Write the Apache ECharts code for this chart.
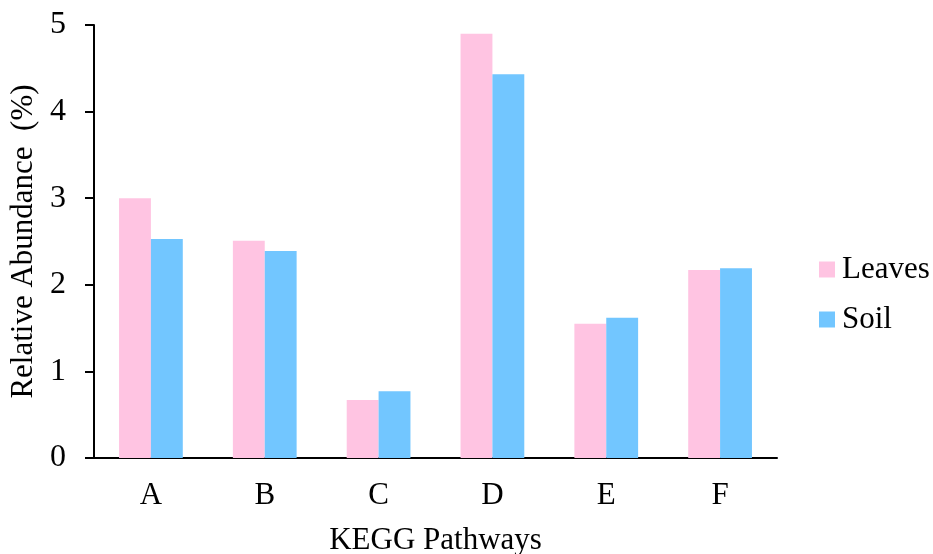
<!DOCTYPE html>
<html><head><meta charset="utf-8">
<script src="https://cdn.jsdelivr.net/npm/echarts@6/dist/echarts.min.js"></script>
<style>html,body{margin:0;padding:0;background:#fff}#c{width:933px;height:554px}</style>
</head><body><div id="c"></div>
<script>
const categories = ['A','B','C','D','E','F'];
const leaves = [3.00, 2.51, 0.67, 4.90, 1.55, 2.17];
const soil = [2.53, 2.39, 0.77, 4.43, 1.62, 2.19];
const yTicks = [0,1,2,3,4,5];

const font = '"Liberation Serif", "Times New Roman", serif';
const chart = echarts.init(document.getElementById('c'), null, {renderer:'canvas'});
chart.setOption({
  animation:false,
  backgroundColor:'#fff',
  textStyle:{fontFamily:font, color:'#000'},
  grid:{left:94, right:156, top:25, bottom:96, containLabel:false, outerBoundsMode:'none'},
  legend:{
    orient:'vertical', left:814, top:249, itemWidth:16, itemHeight:16, itemGap:19,
    icon:'rect',
    textStyle:{fontFamily:font, fontSize:31, color:'#000', padding:[0,0,0,2]},
    data:['Leaves','Soil']
  },
  xAxis:{
    type:'category', data:categories,
    name:'KEGG Pathways', nameLocation:'middle', nameGap:67,
    nameTextStyle:{fontFamily:font, fontSize:31, color:'#000'},
    axisLine:{lineStyle:{color:'#000', width:2}},
    axisTick:{show:false},
    axisLabel:{fontFamily:font, fontSize:31, color:'#000', margin:22}
  },
  yAxis:{
    type:'value', min:yTicks[0], max:yTicks[yTicks.length-1], interval:1,
    name:'Relative Abundance  (%)', nameLocation:'middle', nameGap:48,
    nameTextStyle:{fontFamily:font, fontSize:31, color:'#000'},
    axisLine:{show:true, lineStyle:{color:'#000', width:2}},
    axisTick:{show:true, length:9, lineStyle:{color:'#000', width:2}},
    splitLine:{show:false},
    axisLabel:{fontFamily:font, fontSize:32, color:'#000', margin:28}
  },
  series:[
    {name:'Leaves', type:'bar', data:leaves, itemStyle:{color:'#FFC4E2'}, barGap:'0%', barCategoryGap:'44%'},
    {name:'Soil', type:'bar', data:soil, itemStyle:{color:'#72C6FF'}, barGap:'0%', barCategoryGap:'44%'}
  ]
});
</script></body></html>
